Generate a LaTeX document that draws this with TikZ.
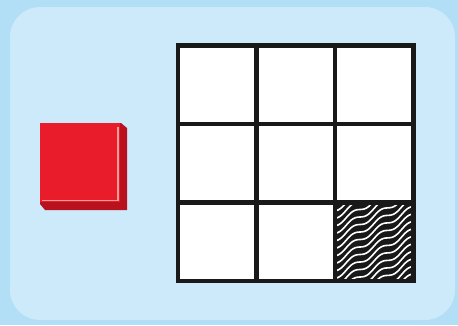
\documentclass[tikz,border=0pt]{standalone}
\begin{document}
\begin{tikzpicture}[x=1pt,y=-1pt,
  gridline/.style={line width=4.3pt, draw=black!90},
  cell/.style={minimum width=78.5pt, minimum height=78.5pt, inner sep=0pt, outer sep=0pt}]
\definecolor{outerbg}{RGB}{178,222,246}
\definecolor{innerbg}{RGB}{204,234,250}
\definecolor{redface}{RGB}{232,28,42}
\definecolor{redside}{RGB}{185,18,30}
\definecolor{redhi}{RGB}{250,160,150}
\useasboundingbox (0,0) rectangle (458,325);
\fill[outerbg] (0,0) rectangle (458,325);
\fill[innerbg, rounded corners=30pt] (10,7) rectangle (455,320);
% red tile
\fill[redside] (40,123) -- (121,123) -- (127,128) -- (127,210) -- (45,210) -- (40,204) -- cycle;
\node[fill=redface, minimum width=80pt, minimum height=79pt, inner sep=0pt, anchor=north west] (tile) at (40,123) {};
\draw[redhi, line width=1.3pt] (118,127) -- (118,200.5) -- (42,200.5);
% grid cells
\foreach \r in {0,1,2}{
  \foreach \c in {0,1,2}{
    \node[cell, fill=white] (c\r\c) at ({178+39.25+78.5*\c},{45.5+39.25+78.5*\r}) {};
  }
}
% hatched cell
\fill[black!90] (c22.north west) rectangle (c22.south east);
\begin{scope}
  \clip (c22.north west) rectangle (c22.south east);
  \foreach \k in {-2,...,22}{
    \draw[white, line width=1.6pt, line cap=round]
      plot[domain=330:420, samples=80, smooth] (\x, {205 + \k*7.5 - 0.6*(\x-330) + 2.4*sin(13*\x)});
  }
\end{scope}
% grid lines
\draw[gridline] (c00.north west) rectangle (c22.south east);
\draw[gridline] (c00.north east) -- (c20.south east);
\draw[gridline] (c01.north east) -- (c21.south east);
\draw[gridline] (c00.south west) -- (c02.south east);
\draw[gridline] (c10.south west) -- (c12.south east);
\end{tikzpicture}
\end{document}
